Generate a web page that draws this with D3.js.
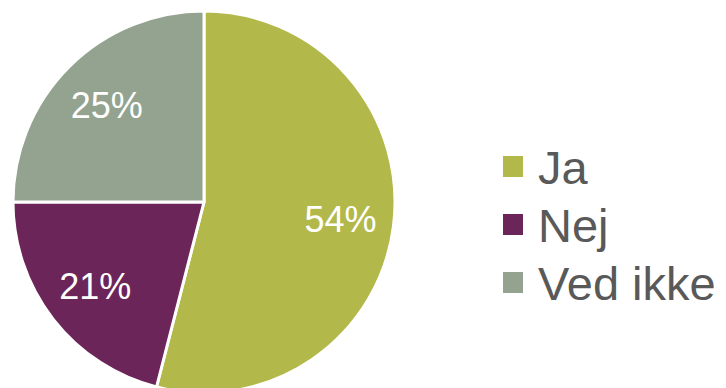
<!DOCTYPE html>
<html>
<head>
<meta charset="utf-8">
<script src="https://cdn.jsdelivr.net/npm/d3@7"></script>
<style>
  body { margin: 0; background: #fff; }
  svg { display: block; }
</style>
</head>
<body>
<div class="main"></div>
<script>
// data
let categories = ["Ja", "Nej", "Ved ikke"];
let values = [54, 21, 25];
let colors = ["#b3b84a", "#6c2558", "#93a38f"];

let width = 726;
let height = 388;
let radius = 191;

let data = categories.map((c, i) => ({ name: c, value: values[i], color: colors[i] }));

let svg = d3.select(".main")
    .append("svg")
    .attr("width", width)
    .attr("height", height);

let pieGroup = svg.append("g")
    .attr("transform", `translate(204,202)`);

const pie = d3.pie()
    .sort(null)
    .value(d => d.value);

const arc = d3.arc()
    .innerRadius(0)
    .outerRadius(radius);

// labels sit at about 72% of the radius
const labelArc = d3.arc()
    .innerRadius(radius * 0.72)
    .outerRadius(radius * 0.72);

let slices = pie(data);

pieGroup.selectAll(".slice")
    .data(slices)
    .enter().append("path")
    .attr("class", "slice")
    .attr("d", arc)
    .attr("fill", d => d.data.color)
    .attr("stroke", "#fff")
    .attr("stroke-width", 3)
    .attr("stroke-linejoin", "round");

pieGroup.selectAll(".slice-label")
    .data(slices)
    .enter().append("text")
    .attr("class", "slice-label")
    .attr("transform", d => `translate(${labelArc.centroid(d)})`)
    .attr("text-anchor", "middle")
    .attr("dy", "0.36em")
    .attr("fill", "#fff")
    .style("font-family", "'Liberation Sans', Arial, sans-serif")
    .style("font-size", "36px")
    .text(d => d.data.value + "%");

// legend
let legend = svg.append("g")
    .attr("transform", "translate(503,156)");

let items = legend.selectAll(".legend-item")
    .data(data)
    .enter().append("g")
    .attr("class", "legend-item")
    .attr("transform", (d, i) => `translate(0,${i * 58})`);

items.append("rect")
    .attr("width", 20)
    .attr("height", 21)
    .attr("fill", d => d.color);

items.append("text")
    .attr("x", 35)
    .attr("y", 28)
    .attr("fill", "#595959")
    .style("font-family", "'Liberation Sans', Arial, sans-serif")
    .style("font-size", "47px")
    .text(d => d.name);
</script>
</body>
</html>
